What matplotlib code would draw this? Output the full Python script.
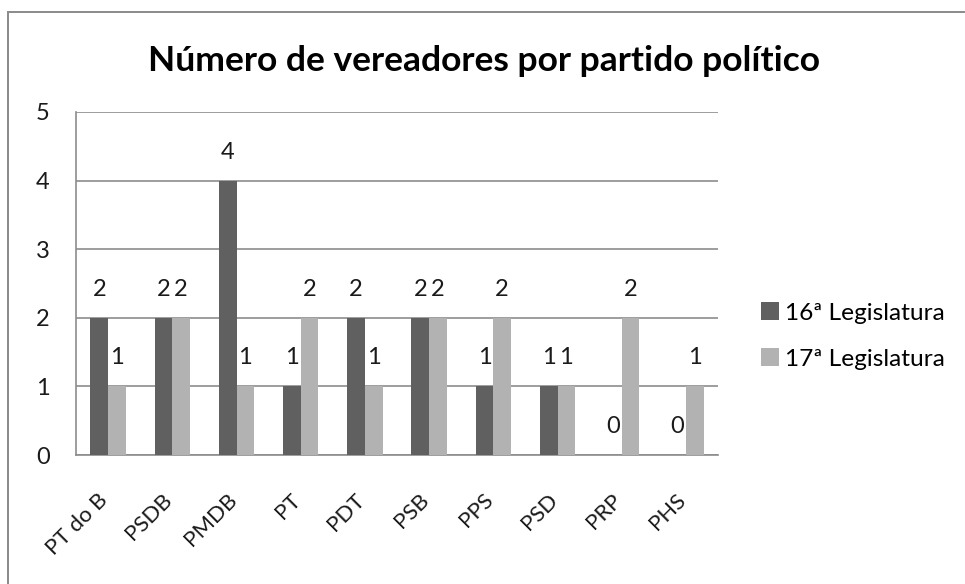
import matplotlib.pyplot as plt
import matplotlib.transforms as mtransforms
import numpy as np
from matplotlib.patches import Rectangle

plt.rcParams["font.family"] = ["Lato", "DejaVu Sans"]

partidos = ["PT do B", "PSDB", "PMDB", "PT", "PDT", "PSB", "PPS", "PSD", "PRP", "PHS"]
leg16 = [2, 2, 4, 1, 2, 2, 1, 1, 0, 0]
leg17 = [1, 2, 1, 2, 1, 2, 2, 1, 2, 1]
series_names = ["16ª Legislatura", "17ª Legislatura"]
yticks = [0, 1, 2, 3, 4, 5]

DARK = "#606060"
LIGHT = "#b2b2b2"
GRID = "#8c8c8c"
FS = 17

fig = plt.figure(figsize=(9.65, 5.84), dpi=100)
# chart frame: only the top and left edges fall inside the picture
fig.patches.append(Rectangle((8 / 965, -0.1), 1.2, 1.1 - 12 / 584,
                             transform=fig.transFigure, fill=False,
                             edgecolor="#8a8a8a", linewidth=1.4))

ax = fig.add_axes([76 / 965, 129 / 584, 642 / 965, 343 / 584])
x = np.arange(len(partidos))
w = 0.275
b16 = ax.bar(x - w / 2, leg16, w, color=DARK, label=series_names[0], zorder=3)
b17 = ax.bar(x + w / 2, leg17, w, color=LIGHT, label=series_names[1], zorder=3)

for bars, vals in ((b16, leg16), (b17, leg17)):
    for rect, v in zip(bars, vals):
        ax.annotate(str(v), (rect.get_x() + rect.get_width() / 2, v),
                    xytext=(0, 13), textcoords="offset points",
                    ha="center", va="bottom", fontsize=FS, color="#1a1a1a")

ax.set_xlim(-0.5, len(partidos) - 0.5)
ax.set_ylim(0, 5)
ax.set_yticks(yticks)
ax.set_yticklabels([str(t) for t in yticks], fontsize=FS, color="#1a1a1a")
ax.yaxis.grid(True, color=GRID, linewidth=1.2, zorder=0)
ax.set_axisbelow(True)
ax.tick_params(axis="y", length=0, pad=19)
ax.tick_params(axis="x", length=0, pad=25)

ax.set_xticks(x)
ax.set_xticklabels(partidos, rotation=45, ha="right", va="top",
                   fontsize=16, color="#1a1a1a")
shift = mtransforms.ScaledTranslation(4 / 100, 0, fig.dpi_scale_trans)
for lab in ax.get_xticklabels():
    lab.set_transform(lab.get_transform() + shift)

for side in ("top", "right"):
    ax.spines[side].set_visible(False)
ax.spines["left"].set_color(GRID)
ax.spines["bottom"].set_color(GRID)
ax.spines["left"].set_linewidth(1.2)
ax.spines["bottom"].set_linewidth(1.2)

fig.text(0.502, 0.895, "Número de vereadores por partido político",
         ha="center", va="center", fontsize=25.5, fontweight="bold", color="#000000")

leg = fig.legend(handles=[b16, b17], labels=series_names, loc="center left",
                 bbox_to_anchor=(761 / 965, 1 - 336 / 584), frameon=False,
                 fontsize=17.6, handlelength=0.75, handleheight=0.75,
                 handletextpad=0.25, labelspacing=1.0, borderaxespad=0,
                 borderpad=0)

fig.savefig("out.png", dpi=100)
